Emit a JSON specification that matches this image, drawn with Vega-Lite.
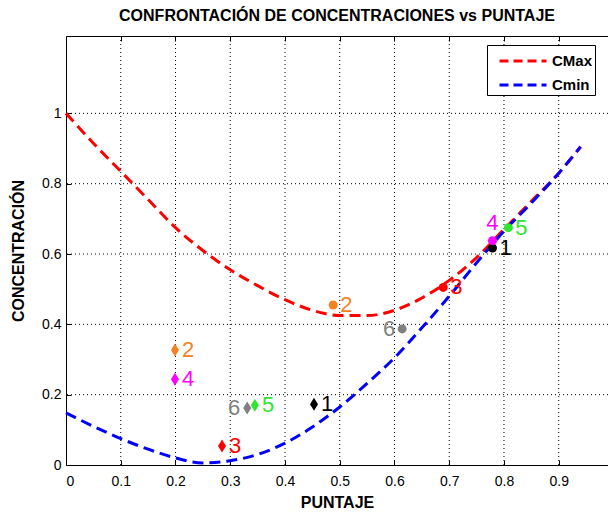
{
  "$schema": "https://vega.github.io/schema/vega-lite/v6.json",
  "width": 542,
  "height": 429,
  "autosize": "none",
  "padding": {"left": 66, "top": 36, "right": 0, "bottom": 47},
  "background": "white",
  "title": {
    "text": "CONFRONTACIÓN DE CONCENTRACIONES vs PUNTAJE",
    "font": "Liberation Sans",
    "fontSize": 16,
    "fontWeight": "bold",
    "color": "#000",
    "anchor": "middle",
    "offset": 12
  },
  "config": {
    "view": {"stroke": null},
    "axis": {
      "labelFont": "Liberation Sans",
      "labelFontSize": 14,
      "labelColor": "#000",
      "titleFont": "Liberation Sans",
      "titleFontWeight": "bold",
      "titleFontSize": 16,
      "titleColor": "#000",
      "domain": true,
      "domainColor": "#000",
      "domainWidth": 1,
      "grid": false,
      "ticks": true,
      "tickColor": "#000",
      "tickWidth": 1,
      "tickSize": -5
    }
  },
  "datasets": {
    "rejilla_x": [
      {"v": 0.1}, {"v": 0.2}, {"v": 0.3}, {"v": 0.4}, {"v": 0.5},
      {"v": 0.6}, {"v": 0.7}, {"v": 0.8}, {"v": 0.9}
    ],
    "rejilla_y": [
      {"v": 0.2}, {"v": 0.4}, {"v": 0.6}, {"v": 0.8}, {"v": 1.0}
    ],
    "curvas": [
      {"serie": "CMax", "puntaje": 0.0, "conc": 1.0},
      {"serie": "CMax", "puntaje": 0.05, "conc": 0.915},
      {"serie": "CMax", "puntaje": 0.1, "conc": 0.835},
      {"serie": "CMax", "puntaje": 0.15, "conc": 0.755},
      {"serie": "CMax", "puntaje": 0.2, "conc": 0.675},
      {"serie": "CMax", "puntaje": 0.25, "conc": 0.61},
      {"serie": "CMax", "puntaje": 0.3, "conc": 0.555},
      {"serie": "CMax", "puntaje": 0.35, "conc": 0.51},
      {"serie": "CMax", "puntaje": 0.4, "conc": 0.47},
      {"serie": "CMax", "puntaje": 0.45, "conc": 0.44},
      {"serie": "CMax", "puntaje": 0.5, "conc": 0.425},
      {"serie": "CMax", "puntaje": 0.55, "conc": 0.425},
      {"serie": "CMax", "puntaje": 0.6, "conc": 0.44},
      {"serie": "CMax", "puntaje": 0.65, "conc": 0.475},
      {"serie": "CMax", "puntaje": 0.7, "conc": 0.525},
      {"serie": "CMax", "puntaje": 0.75, "conc": 0.59},
      {"serie": "CMax", "puntaje": 0.8, "conc": 0.67},
      {"serie": "CMax", "puntaje": 0.85, "conc": 0.75},
      {"serie": "CMax", "puntaje": 0.9, "conc": 0.83},
      {"serie": "CMax", "puntaje": 0.94, "conc": 0.905},
      {"serie": "Cmin", "puntaje": 0.0, "conc": 0.148},
      {"serie": "Cmin", "puntaje": 0.05, "conc": 0.11},
      {"serie": "Cmin", "puntaje": 0.1, "conc": 0.075},
      {"serie": "Cmin", "puntaje": 0.15, "conc": 0.045},
      {"serie": "Cmin", "puntaje": 0.2, "conc": 0.02},
      {"serie": "Cmin", "puntaje": 0.25, "conc": 0.006},
      {"serie": "Cmin", "puntaje": 0.3, "conc": 0.012},
      {"serie": "Cmin", "puntaje": 0.35, "conc": 0.03},
      {"serie": "Cmin", "puntaje": 0.4, "conc": 0.062},
      {"serie": "Cmin", "puntaje": 0.45, "conc": 0.108},
      {"serie": "Cmin", "puntaje": 0.5, "conc": 0.165},
      {"serie": "Cmin", "puntaje": 0.55, "conc": 0.232},
      {"serie": "Cmin", "puntaje": 0.6, "conc": 0.305},
      {"serie": "Cmin", "puntaje": 0.65, "conc": 0.39},
      {"serie": "Cmin", "puntaje": 0.7, "conc": 0.48},
      {"serie": "Cmin", "puntaje": 0.75, "conc": 0.575},
      {"serie": "Cmin", "puntaje": 0.8, "conc": 0.665},
      {"serie": "Cmin", "puntaje": 0.85, "conc": 0.745},
      {"serie": "Cmin", "puntaje": 0.9, "conc": 0.83},
      {"serie": "Cmin", "puntaje": 0.94, "conc": 0.905}
    ],
    "puntos": [
      {"id": "1", "tipo": "rombo", "puntaje": 0.453, "conc": 0.173},
      {"id": "2", "tipo": "rombo", "puntaje": 0.199, "conc": 0.327},
      {"id": "3", "tipo": "rombo", "puntaje": 0.285, "conc": 0.054},
      {"id": "4", "tipo": "rombo", "puntaje": 0.199, "conc": 0.244},
      {"id": "5", "tipo": "rombo", "puntaje": 0.345, "conc": 0.170},
      {"id": "6", "tipo": "rombo", "puntaje": 0.331, "conc": 0.162},
      {"id": "1", "tipo": "circulo", "puntaje": 0.779, "conc": 0.617},
      {"id": "2", "tipo": "circulo", "puntaje": 0.488, "conc": 0.455},
      {"id": "3", "tipo": "circulo", "puntaje": 0.689, "conc": 0.505},
      {"id": "4", "tipo": "circulo", "puntaje": 0.779, "conc": 0.638},
      {"id": "5", "tipo": "circulo", "puntaje": 0.808, "conc": 0.675},
      {"id": "6", "tipo": "circulo", "puntaje": 0.614, "conc": 0.387}
    ]
  },
  "resolve": {"axis": {"x": "independent"}},
  "layer": [
    {
      "data": {"name": "rejilla_x"},
      "mark": {"type": "rule", "stroke": "#000", "strokeWidth": 1, "strokeDash": [1, 3]},
      "encoding": {
        "x": {"field": "v", "type": "quantitative", "axis": null}
      }
    },
    {
      "data": {"name": "rejilla_y"},
      "mark": {"type": "rule", "stroke": "#000", "strokeWidth": 1, "strokeDash": [1, 3]},
      "encoding": {
        "y": {"field": "v", "type": "quantitative"}
      }
    },
    {
      "data": {"name": "curvas"},
      "mark": {"type": "line", "strokeWidth": 3, "strokeDash": [11, 6], "interpolate": "monotone"},
      "encoding": {
        "x": {
          "field": "puntaje", "type": "quantitative",
          "scale": {"domain": [0, 0.99], "nice": false},
          "axis": {"title": "PUNTAJE", "orient": "bottom", "values": [0, 0.1, 0.2, 0.3, 0.4, 0.5, 0.6, 0.7, 0.8, 0.9], "format": "~g", "labelPadding": 14, "titlePadding": 6}
        },
        "y": {
          "field": "conc", "type": "quantitative",
          "scale": {"domain": [0, 1.22], "nice": false},
          "axis": {"title": "CONCENTRACIÓN", "values": [0, 0.2, 0.4, 0.6, 0.8, 1], "format": "~g", "labelPadding": 10, "titlePadding": 15}
        },
        "stroke": {
          "field": "serie", "type": "nominal",
          "scale": {"domain": ["CMax", "Cmin"], "range": ["#FF0000", "#0000FF"]},
          "legend": {
            "title": null,
            "orient": "none",
            "legendX": 421,
            "legendY": 9,
            "fillColor": "#FFFFFF",
            "strokeColor": "#000000",
            "padding": 2,
            "symbolType": "M-1.88,0H1.88",
            "symbolSize": 625,
            "symbolStrokeWidth": 3,
            "symbolDash": [9, 5],
            "symbolOffset": 20,
            "labelFont": "Liberation Sans",
            "labelFontWeight": "bold",
            "labelFontSize": 15,
            "labelColor": "#000",
            "labelOffset": 15,
            "rowPadding": 2
          }
        }
      }
    },
    {
      "data": {"name": "puntos"},
      "transform": [{"filter": "datum.tipo === 'rombo'"}],
      "mark": {"type": "point", "filled": true, "opacity": 1, "shape": "M0,-1L0.62,0L0,1L-0.62,0Z", "size": 169},
      "encoding": {
        "x": {"field": "puntaje", "type": "quantitative", "axis": null},
        "y": {"field": "conc", "type": "quantitative"},
        "fill": {
          "field": "id", "type": "nominal",
          "scale": {"domain": ["1", "2", "3", "4", "5", "6"], "range": ["#000000", "#F58220", "#FF0000", "#FF00FF", "#2FE62F", "#808080"]},
          "legend": null
        }
      }
    },
    {
      "data": {"name": "puntos"},
      "transform": [{"filter": "datum.tipo === 'circulo'"}],
      "mark": {"type": "point", "filled": true, "opacity": 1, "shape": "circle", "size": 81},
      "encoding": {
        "x": {"field": "puntaje", "type": "quantitative", "axis": null},
        "y": {"field": "conc", "type": "quantitative"},
        "fill": {"field": "id", "type": "nominal", "legend": null}
      }
    },
    {
      "data": {"name": "puntos"},
      "transform": [{"filter": "datum.id !== '6' && !(datum.tipo === 'circulo' && datum.id === '4')"}],
      "mark": {"type": "text", "align": "left", "baseline": "middle", "dx": 7, "font": "Liberation Sans", "fontSize": 22},
      "encoding": {
        "x": {"field": "puntaje", "type": "quantitative", "axis": null},
        "y": {"field": "conc", "type": "quantitative"},
        "text": {"field": "id"},
        "fill": {"field": "id", "type": "nominal", "legend": null}
      }
    },
    {
      "data": {"name": "puntos"},
      "transform": [{"filter": "datum.id === '6'"}],
      "mark": {"type": "text", "align": "right", "baseline": "middle", "dx": -7, "font": "Liberation Sans", "fontSize": 22},
      "encoding": {
        "x": {"field": "puntaje", "type": "quantitative", "axis": null},
        "y": {"field": "conc", "type": "quantitative"},
        "text": {"field": "id"},
        "fill": {"field": "id", "type": "nominal", "legend": null}
      }
    },
    {
      "data": {"name": "puntos"},
      "transform": [{"filter": "datum.tipo === 'circulo' && datum.id === '4'"}],
      "mark": {"type": "text", "align": "center", "baseline": "middle", "dy": -18, "font": "Liberation Sans", "fontSize": 22},
      "encoding": {
        "x": {"field": "puntaje", "type": "quantitative", "axis": null},
        "y": {"field": "conc", "type": "quantitative"},
        "text": {"field": "id"},
        "fill": {"field": "id", "type": "nominal", "legend": null}
      }
    },
    {
      "data": {"name": "puntos"},
      "mark": {"type": "point", "opacity": 0},
      "encoding": {
        "x": {
          "field": "puntaje", "type": "quantitative",
          "axis": {"orient": "top", "title": null, "labels": false, "values": [0, 0.1, 0.2, 0.3, 0.4, 0.5, 0.6, 0.7, 0.8, 0.9]}
        },
        "y": {"field": "conc", "type": "quantitative"}
      }
    }
  ]
}
